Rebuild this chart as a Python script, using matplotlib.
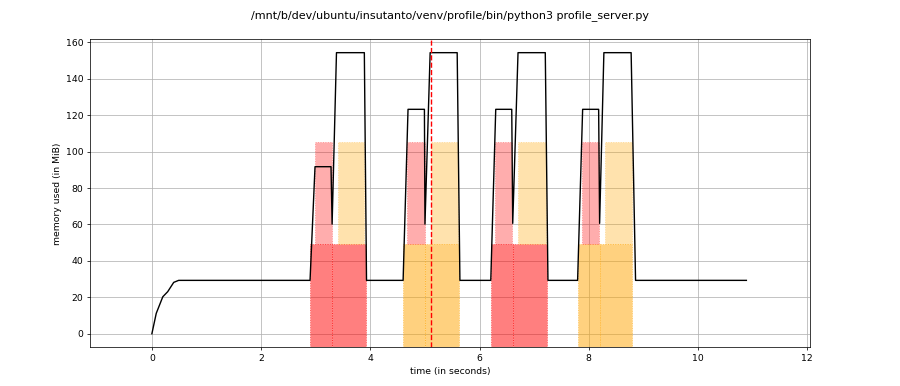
import matplotlib
matplotlib.use("Agg")
import matplotlib.pyplot as plt

title = "/mnt/b/dev/ubuntu/insutanto/venv/profile/bin/python3 profile_server.py"

# memory trace (time in s, memory in MiB)
time_s = [0.0, 0.08, 0.2, 0.29, 0.40, 0.49,
          2.896, 2.987, 3.28, 3.30, 3.38, 3.89, 3.93,
          4.60, 4.69, 4.99, 5.00, 5.095, 5.59, 5.64,
          6.205, 6.296, 6.589, 6.607, 6.704, 7.203, 7.252,
          7.795, 7.887, 8.18, 8.198, 8.276, 8.775, 8.856,
          10.885]
mem_mib = [0.0, 11.2, 20.3, 23.1, 28.2, 29.3,
           29.3, 91.7, 91.7, 60.2, 154.3, 154.3, 29.3,
           29.3, 123.2, 123.2, 60.2, 154.3, 154.3, 29.3,
           29.3, 123.2, 123.2, 60.6, 154.3, 154.3, 29.3,
           29.3, 123.2, 123.2, 60.6, 154.3, 154.3, 29.3,
           29.3]

# level-0 function blocks
lvl0_start = [2.901, 3.303, 4.60, 5.00, 6.21, 6.607, 7.806, 8.198]
lvl0_end = [3.303, 3.912, 5.00, 5.625, 6.607, 7.23, 8.198, 8.80]
lvl0_color = ["red", "red", "orange", "orange", "red", "red", "orange", "orange"]
lvl0_bottom = -20.0
lvl0_top = 49.3

# level-1 function blocks
lvl1_start = [2.993, 3.402, 4.68, 5.107, 6.283, 6.704, 7.88, 8.289]
lvl1_end = [3.298, 3.888, 5.00, 5.607, 6.60, 7.21, 8.19, 8.794]
lvl1_color = ["red", "orange", "red", "orange", "red", "orange", "red", "orange"]
lvl1_top = 105.3

max_mem_time = 5.107

fig = plt.figure(figsize=(13.5, 5.79), dpi=900 / 13.5)
ax = fig.add_axes([0.1, 0.1, 0.8, 0.798])
ax.grid(True, zorder=0)
ax.set_axisbelow(True)

for s, e, c in zip(lvl0_start, lvl0_end, lvl0_color):
    ax.bar(s, lvl0_top - lvl0_bottom, width=e - s, bottom=lvl0_bottom, align="edge",
           color=c, alpha=0.5, edgecolor=c, linestyle=":", linewidth=1.0, zorder=2)
for s, e, c in zip(lvl1_start, lvl1_end, lvl1_color):
    ax.bar(s, lvl1_top - lvl0_top, width=e - s, bottom=lvl0_top, align="edge",
           color=c, alpha=0.32, edgecolor=c, linestyle=":", linewidth=1.0, zorder=2)

ax.plot(time_s, mem_mib, color="black", linewidth=1.5, zorder=3)
ax.axvline(max_mem_time, color="red", linestyle="--", linewidth=1.5, zorder=4)

ax.set_xlim(-1.133, 12.05)
ax.set_ylim(-7.5, 161.6)
ax.set_xlabel("time (in seconds)")
ax.set_ylabel("memory used (in MiB)")
fig.suptitle(title, y=0.973, fontsize=12)

fig.savefig("out.png", dpi=900 / 13.5)
